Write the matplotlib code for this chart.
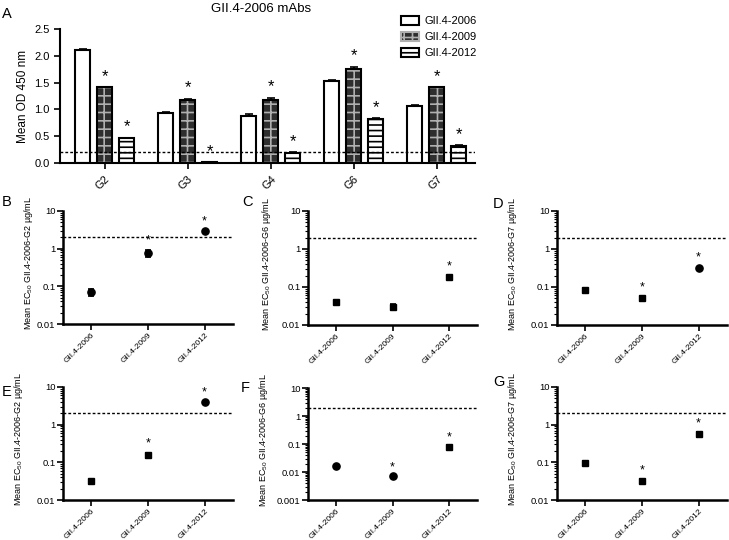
import numpy as np
import matplotlib
matplotlib.use("Agg")
import matplotlib.pyplot as plt
from matplotlib.patches import Patch
from matplotlib.ticker import LogLocator, FuncFormatter, NullFormatter

plt.rcParams['font.family'] = ['Liberation Sans', 'DejaVu Sans']
plt.rcParams['mathtext.fontset'] = 'custom'
plt.rcParams['mathtext.rm'] = 'Liberation Sans'
plt.rcParams['hatch.linewidth'] = 1.2

# panel A: ELISA OD values
groups = ['G2', 'G3', 'G4', 'G6', 'G7']
viruses = ['GII.4-2006', 'GII.4-2009', 'GII.4-2012']
od_2006 = [2.10, 0.93, 0.88, 1.53, 1.06]
od_2009 = [1.41, 1.17, 1.18, 1.76, 1.41]
od_2012 = [0.46, 0.01, 0.19, 0.82, 0.32]
err_2006 = [0.03, 0.02, 0.03, 0.01, 0.02]
err_2009 = [0.01, 0.03, 0.04, 0.04, 0.01]
err_2012 = [0.01, 0.005, 0.01, 0.02, 0.01]
od_cutoff = 0.2

# panels B-G: mean EC50 (ug/mL)
ec50_B = [0.072, 0.78, 2.95]
ec50_C = [0.040, 0.030, 0.18]
ec50_D = [0.083, 0.050, 0.32]
ec50_E = [0.031, 0.155, 3.9]
ec50_F = [0.016, 0.0071, 0.078]
ec50_G = [0.098, 0.032, 0.55]
err_B = [0.015, 0.17, 0.15]
err_C = [0.005, 0.005, 0.02]
err_D = [0.01, 0.008, 0.02]
err_E = [0.004, 0.025, 0.3]
err_F = [0.001, 0.0005, 0.012]
err_G = [0.01, 0.004, 0.08]
stars_B = [False, True, True]
stars_C = [False, False, True]
stars_D = [False, True, True]
stars_E = [False, True, True]
stars_F = [False, True, True]
stars_G = [False, True, True]
marks_B = ['o', 'o', 'o']
marks_C = ['s', 's', 's']
marks_D = ['s', 's', 'o']
marks_E = ['s', 's', 'o']
marks_F = ['o', 'o', 's']
marks_G = ['s', 's', 's']
ec50_cutoff = 2.0

fig = plt.figure(figsize=(7.29, 5.4), dpi=100)
W, H = 729, 540


def px_axes(x0, y0, x1, y1):
    return fig.add_axes([x0 / W, 1 - y1 / H, (x1 - x0) / W, (y1 - y0) / H])


# ---- panel A ----
ax = px_axes(60, 29, 475, 163)
x = np.arange(len(groups))
off = 0.265
bw = 0.18
ax.bar(x - off, od_2006, bw, color='white', edgecolor='black', linewidth=1.5)
ax.bar(x, od_2009, bw, color='#2e2e2e', edgecolor='#b0b0b0', hatch='++', linewidth=0)
ax.bar(x, od_2009, bw, fill=False, edgecolor='black', linewidth=1.5)
ax.bar(x + off, od_2012, bw, color='white', edgecolor='black', hatch='---', linewidth=1.5)
for xs, vals, errs in [(x - off, od_2006, err_2006), (x, od_2009, err_2009), (x + off, od_2012, err_2012)]:
    ax.errorbar(xs, vals, yerr=[np.zeros(len(errs)), errs], fmt='none', ecolor='black',
                elinewidth=1.2, capsize=3, capthick=1.2)
for xs, vals, errs in [(x, od_2009, err_2009), (x + off, od_2012, err_2012)]:
    for xi, v, e in zip(xs, vals, errs):
        ax.text(xi, v + e + 0.06, '*', ha='center', va='bottom', fontsize=12)
ax.axhline(od_cutoff, color='black', linestyle=(0, (2, 1.5)), linewidth=1)
ax.set_xlim(-0.54, 4.46)
ax.set_ylim(0, 2.5)
ax.set_yticks([0, 0.5, 1.0, 1.5, 2.0, 2.5])
ax.set_yticklabels(['0.0', '0.5', '1.0', '1.5', '2.0', '2.5'], fontsize=8)
ax.set_xticks(x)
ax.set_xticklabels(groups, rotation=45, ha='right', rotation_mode='anchor', fontsize=8)
ax.set_ylabel('Mean OD 450 nm', fontsize=8.5)
for s in ['top', 'right']:
    ax.spines[s].set_visible(False)
for s in ['left', 'bottom']:
    ax.spines[s].set_linewidth(1.5)
ax.tick_params(width=1.2, length=4)

handles = [Patch(facecolor='white', edgecolor='black', linewidth=1.5),
           Patch(facecolor='#2e2e2e', edgecolor='#b0b0b0', hatch='++', linewidth=1.5),
           Patch(facecolor='white', edgecolor='black', hatch='---', linewidth=1.5)]
fig.legend(handles, viruses, loc='upper left', bbox_to_anchor=(391 / W, 1 - 6 / H),
           frameon=False, fontsize=8, handlelength=1.6, handleheight=0.9,
           labelspacing=0.5, handletextpad=0.5)
fig.text(261 / W, 1 - 9 / H, 'GII.4-2006 mAbs', ha='center', va='center', fontsize=9.5)
fig.text(2 / W, 1 - 14 / H, 'A', ha='left', va='center', fontsize=10.5)

# ---- panels B-G ----
# letter, axes box (px), values, errors, stars, markers, mAb, y min, ylabel right edge (px), letter pos (px)
panels = [
    ('B', (63, 211, 233, 324), ec50_B, err_B, stars_B, marks_B, 'G2', 0.01, 35, (2, 202)),
    ('C', (308, 211, 477, 325), ec50_C, err_C, stars_C, marks_C, 'G6', 0.01, 273, (242, 202)),
    ('D', (557, 211, 727, 325), ec50_D, err_D, stars_D, marks_D, 'G7', 0.01, 519, (493, 204)),
    ('E', (63, 387, 233, 500), ec50_E, err_E, stars_E, marks_E, 'G2', 0.01, 25, (2, 392)),
    ('F', (308, 388, 477, 500), ec50_F, err_F, stars_F, marks_F, 'G6', 0.001, 270, (241, 388)),
    ('G', (557, 387, 727, 500), ec50_G, err_G, stars_G, marks_G, 'G7', 0.01, 519, (493, 382)),
]
for letter, box, vals, errs, stars, marks, mab, ymin, lab_x, let_xy in panels:
    ax = px_axes(*box)
    xs = np.arange(len(viruses))
    ax.errorbar(xs, vals, yerr=errs, fmt='none', ecolor='black', elinewidth=1.2,
                capsize=2.5, capthick=1.2)
    for xi, v, e, m, st in zip(xs, vals, errs, marks, stars):
        ax.plot(xi, v, marker=m, color='black', markersize=5.2 if m == 'o' else 4.8)
        if st:
            ax.text(xi, (v + e) * 1.2, '*', ha='center', va='bottom', fontsize=9)
    ax.axhline(ec50_cutoff, color='black', linestyle=(0, (2, 1.5)), linewidth=1)
    ax.set_yscale('log')
    ax.set_ylim(ymin, 10)
    ax.set_xlim(-0.5, 2.5)
    ax.yaxis.set_major_locator(LogLocator(base=10, numticks=10))
    ax.yaxis.set_minor_locator(LogLocator(base=10, subs=np.arange(2, 10), numticks=20))
    ax.yaxis.set_major_formatter(FuncFormatter(lambda v, p: '%g' % v))
    ax.yaxis.set_minor_formatter(NullFormatter())
    ax.set_xticks(xs)
    ax.set_xticklabels(viruses, rotation=45, ha='right', rotation_mode='anchor', fontsize=6)
    ax.tick_params(axis='y', labelsize=6.8, pad=1.5)
    ax.tick_params(axis='x', pad=1.5)
    ax.tick_params(which='major', width=1.2, length=4)
    ax.tick_params(which='minor', width=0.8, length=2)
    for s in ['top', 'right']:
        ax.spines[s].set_visible(False)
    for s in ['left', 'bottom']:
        ax.spines[s].set_linewidth(1.8)
    ax.set_ylabel('Mean EC$_{50}$ GII.4-2006-' + mab + ' \u00b5g/mL', fontsize=6.5)
    ax.yaxis.set_label_coords((lab_x - box[0]) / (box[2] - box[0]), 0.54)
    fig.text(let_xy[0] / W, 1 - let_xy[1] / H, letter, ha='left', va='center', fontsize=10.5)

fig.savefig('out.png', dpi=100)
